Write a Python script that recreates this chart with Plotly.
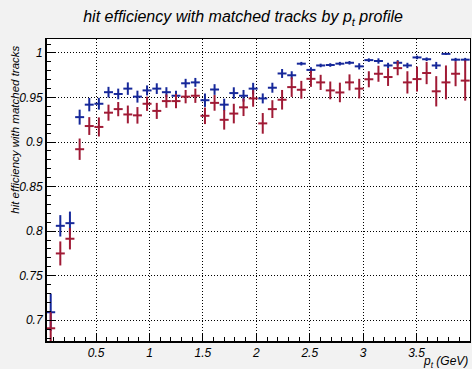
import plotly.graph_objects as go

# bin centres of p_t (GeV)
pt = [0.075, 0.165, 0.255, 0.346, 0.436, 0.526, 0.616, 0.707, 0.797, 0.887,
      0.977, 1.068, 1.158, 1.248, 1.338, 1.429, 1.519, 1.609, 1.699, 1.789,
      1.880, 1.970, 2.060, 2.150, 2.241, 2.331, 2.421, 2.511, 2.602, 2.692,
      2.782, 2.872, 2.963, 3.053, 3.143, 3.233, 3.323, 3.414, 3.504, 3.594,
      3.684, 3.775, 3.865, 3.955]

blue_eff = [0.709, 0.806, 0.809, 0.928, 0.942, 0.943, 0.956, 0.954, 0.960, 0.951,
            0.958, 0.960, 0.956, 0.952, 0.966, 0.967, 0.947, 0.959, 0.942, 0.955,
            0.952, 0.960, 0.949, 0.961, 0.977, 0.975, 0.988, 0.981, 0.986, 0.9865,
            0.988, 0.989, 0.985, 0.992, 0.991, 0.986, 0.989, 0.986, 0.995, 0.993,
            0.986, 0.999, 0.9925, 0.9925]
blue_err = [0.021, 0.012, 0.013, 0.0084, 0.0075, 0.0066, 0.006, 0.006, 0.007, 0.0067,
            0.0056, 0.006, 0.0056, 0.0056, 0.005, 0.005, 0.0075, 0.006, 0.0067, 0.0065,
            0.0065, 0.0065, 0.0056, 0.0056, 0.005, 0.0045, 0.002, 0.003, 0.002, 0.002,
            0.002, 0.002, 0.0035, 0.002, 0.003, 0.003, 0.003, 0.003, 0.002, 0.002,
            0.004, 0.0012, 0.002, 0.002]

red_eff = [0.691, 0.775, 0.7915, 0.892, 0.918, 0.917, 0.933, 0.937, 0.931, 0.930,
           0.943, 0.935, 0.946, 0.946, 0.951, 0.952, 0.9295, 0.944, 0.925, 0.932,
           0.939, 0.949, 0.921, 0.937, 0.9475, 0.9617, 0.9587, 0.971, 0.967, 0.958,
           0.9557, 0.967, 0.960, 0.9705, 0.9767, 0.973, 0.983, 0.967, 0.9707, 0.9775,
           0.957, 0.967, 0.9767, 0.969]
red_err = [0.018, 0.0135, 0.012, 0.012, 0.010, 0.0107, 0.009, 0.008, 0.010, 0.0093,
           0.008, 0.009, 0.0075, 0.008, 0.0075, 0.008, 0.0093, 0.0088, 0.011, 0.011,
           0.0098, 0.0093, 0.0116, 0.010, 0.011, 0.011, 0.010, 0.009, 0.0085, 0.010,
           0.011, 0.009, 0.011, 0.009, 0.009, 0.010, 0.008, 0.0125, 0.014, 0.0125,
           0.017, 0.019, 0.014, 0.0225]

x_half_width = 0.042

x_tick_vals = [0.5, 1, 1.5, 2, 2.5, 3, 3.5]
x_tick_text = ["0.5", "1", "1.5", "2", "2.5", "3", "3.5"]
y_tick_vals = [0.7, 0.75, 0.8, 0.85, 0.9, 0.95, 1.0]
y_tick_text = ["0.7", "0.75", "0.8", "0.85", "0.9", "0.95", "1"]

BLUE = "#16289a"
RED = "#a01a35"

fig = go.Figure()
for y, e, c in [(blue_eff, blue_err, BLUE), (red_eff, red_err, RED)]:
    fig.add_trace(go.Scatter(
        x=pt, y=y, mode="markers",
        marker=dict(size=1, color=c, opacity=0),
        error_y=dict(type="data", array=e, visible=True, color=c, thickness=2, width=0),
        error_x=dict(type="constant", value=x_half_width, visible=True, color=c, thickness=2, width=0),
        showlegend=False, hoverinfo="skip",
    ))

FONT = "Liberation Sans, Arial, sans-serif"

fig.update_layout(
    width=472, height=369,
    margin=dict(l=46, r=2, t=39, b=27),
    paper_bgcolor="#f2f2f2",
    plot_bgcolor="white",
    font=dict(family=FONT, size=12, color="black", style="italic"),
    title=dict(text="<i>hit efficiency with matched tracks by p<sub>t</sub> profile</i>",
               x=0.515, xanchor="center", y=0.955, yanchor="middle",
               font=dict(family=FONT, size=16, color="black", style="italic")),
    xaxis=dict(range=[0.031, 4.0], showline=True, mirror=True, linecolor="black", linewidth=1,
               tickvals=x_tick_vals, ticktext=["<i>" + t + "</i>" for t in x_tick_text],
               ticks="inside", ticklen=9, tickcolor="black",
               showgrid=True, gridcolor="black", gridwidth=1, griddash="1px,2px",
               zeroline=False,
               tickfont=dict(family=FONT, size=12, style="italic"),
               minor=dict(dtick=0.1, tick0=0, ticks="inside", ticklen=5, tickcolor="black", showgrid=False)),
    yaxis=dict(range=[0.6756, 1.0157], showline=True, mirror=True, linecolor="black", linewidth=1,
               tickvals=y_tick_vals, ticktext=["<i>" + t + "</i>" for t in y_tick_text],
               ticks="inside", ticklen=9, tickcolor="black",
               showgrid=True, gridcolor="black", gridwidth=1, griddash="1px,2px",
               zeroline=False,
               tickfont=dict(family=FONT, size=12, style="italic"),
               minor=dict(dtick=0.01, tick0=0, ticks="inside", ticklen=5, tickcolor="black", showgrid=False)),
)

fig.add_shape(type="line", xref="paper", yref="paper", x0=0, x1=0, y0=0, y1=1,
              line=dict(color="black", width=2))
fig.add_shape(type="line", xref="paper", yref="paper", x0=0, x1=1, y0=0, y1=0,
              line=dict(color="black", width=2))

fig.add_annotation(text="<i>hit efficiency with matched tracks</i>", textangle=-90,
                   xref="paper", yref="paper", x=-0.075, y=0.985,
                   xanchor="center", yanchor="top", showarrow=False,
                   font=dict(family=FONT, size=11.5, color="black", style="italic"))
fig.add_annotation(text="<i>p<sub>t</sub> (GeV)</i>",
                   xref="paper", yref="paper", x=1.0, y=-0.067,
                   xanchor="right", yanchor="middle", showarrow=False,
                   font=dict(family=FONT, size=12, color="black", style="italic"))

fig.write_html("out.html", config={"displayModeBar": False},
               post_script="document.body.style.margin='0';document.body.style.overflow='hidden';")
